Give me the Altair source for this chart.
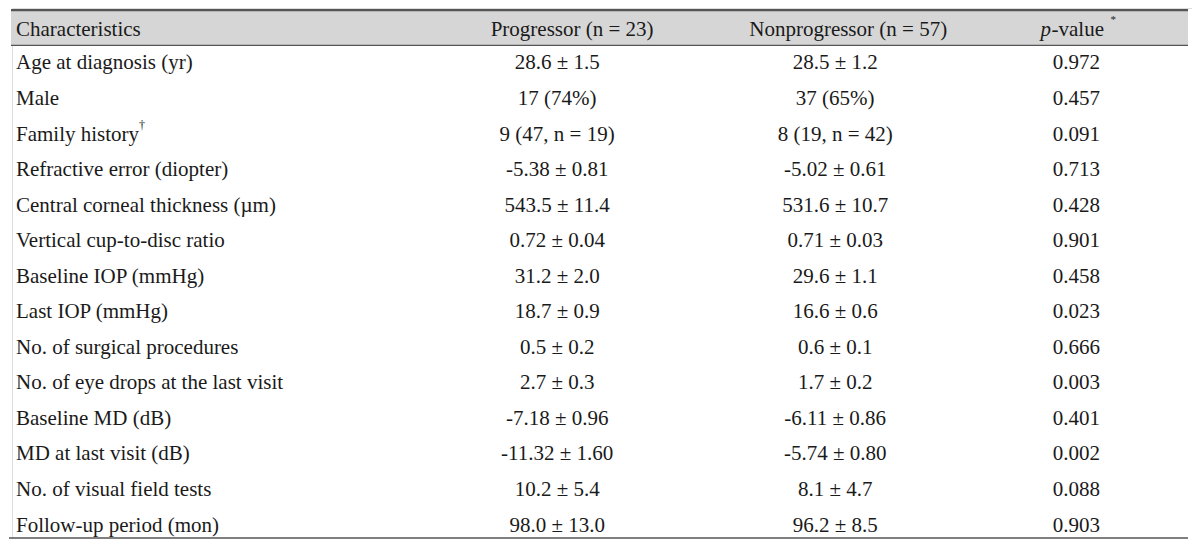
import altair as alt
import pandas as pd

characteristics = [
    "Age at diagnosis (yr)", "Male", "Family history", "Refractive error (diopter)",
    "Central corneal thickness (\u00b5m)", "Vertical cup-to-disc ratio", "Baseline IOP (mmHg)",
    "Last IOP (mmHg)", "No. of surgical procedures", "No. of eye drops at the last visit",
    "Baseline MD (dB)", "MD at last visit (dB)", "No. of visual field tests",
    "Follow-up period (mon)",
]
progressor = [
    "28.6 \u00b1 1.5", "17 (74%)", "9 (47, n = 19)", "-5.38 \u00b1 0.81", "543.5 \u00b1 11.4",
    "0.72 \u00b1 0.04", "31.2 \u00b1 2.0", "18.7 \u00b1 0.9", "0.5 \u00b1 0.2", "2.7 \u00b1 0.3",
    "-7.18 \u00b1 0.96", "-11.32 \u00b1 1.60", "10.2 \u00b1 5.4", "98.0 \u00b1 13.0",
]
nonprogressor = [
    "28.5 \u00b1 1.2", "37 (65%)", "8 (19, n = 42)", "-5.02 \u00b1 0.61", "531.6 \u00b1 10.7",
    "0.71 \u00b1 0.03", "29.6 \u00b1 1.1", "16.6 \u00b1 0.6", "0.6 \u00b1 0.1", "1.7 \u00b1 0.2",
    "-6.11 \u00b1 0.86", "-5.74 \u00b1 0.80", "8.1 \u00b1 4.7", "96.2 \u00b1 8.5",
]
p_values = [
    "0.972", "0.457", "0.091", "0.713", "0.428", "0.901", "0.458", "0.023", "0.666",
    "0.003", "0.401", "0.002", "0.088", "0.903",
]
headers = ["Characteristics", "Progressor (n = 23)", "Nonprogressor (n = 57)"]

FONT = "Liberation Serif"
FS = 21
COLOR = "#1a1a1a"
DY = 1.5
col_x = [12, 555, 834, 1076]
head_x = [12, 570, 847]
HEAD_ROW = 0.05

n = len(characteristics)
rows = []
for i in range(n):
    r = i + 1
    rows.append({"x": col_x[0], "row": r, "t": characteristics[i], "col": "c0"})
    rows.append({"x": col_x[1], "row": r, "t": progressor[i], "col": "c1"})
    rows.append({"x": col_x[2], "row": r, "t": nonprogressor[i], "col": "c2"})
    rows.append({"x": col_x[3], "row": r, "t": p_values[i], "col": "c3"})
df = pd.DataFrame(rows)

xs = alt.Scale(domain=[8, 1192])
ys = alt.Scale(domain=[-0.519, 14.42], reverse=True)
X = lambda f="x": alt.X(f"{f}:Q", scale=xs, axis=None)
Y = lambda f="row": alt.Y(f"{f}:Q", scale=ys, axis=None)

band = alt.Chart(pd.DataFrame({"x": [7], "x2": [1188], "y": [-0.46], "y2": [0.53]})).mark_rect(
    color="#d6d6d6").encode(x=X(), x2="x2:Q", y=Y("y"), y2="y2:Q")

lines_df = pd.DataFrame({"x": [7, 7, 5], "x2": [1188, 1188, 1188], "y": [-0.46, 0.53, 14.39],
                         "w": [2.2, 1.2, 1.6]})
lines = alt.Chart(lines_df).mark_rule(color="#555555").encode(
    x=X(), x2="x2:Q", y=Y("y"), strokeWidth=alt.StrokeWidth("w:Q", scale=None))

hdf = pd.DataFrame({"x": head_x, "row": [HEAD_ROW] * 3, "t": headers})
head_left = alt.Chart(hdf.iloc[[0]]).mark_text(font=FONT, fontSize=FS, color=COLOR, align="left", dy=DY).encode(
    x=X(), y=Y(), text="t:N")
head_center = alt.Chart(hdf.iloc[1:]).mark_text(font=FONT, fontSize=FS, color=COLOR, align="center", dy=DY).encode(
    x=X(), y=Y(), text="t:N")

pdf = pd.DataFrame({"x": [1040], "row": [HEAD_ROW], "p": ["p"], "v": ["-value"], "s": ["*"]})
p_it = alt.Chart(pdf).mark_text(font=FONT, fontSize=FS, color=COLOR, align="left", fontStyle="italic", dy=DY).encode(
    x=X(), y=Y(), text="p:N")
p_rest = alt.Chart(pdf).mark_text(font=FONT, fontSize=FS, color=COLOR, align="left", dx=11, dy=DY).encode(
    x=X(), y=Y(), text="v:N")
p_star = alt.Chart(pdf).mark_text(font=FONT, fontSize=11, color=COLOR, align="left", dx=70, dy=-8).encode(
    x=X(), y=Y(), text="s:N")

body_left = alt.Chart(df[df.col == "c0"]).mark_text(font=FONT, fontSize=FS, color=COLOR, align="left", dy=DY).encode(
    x=X(), y=Y(), text="t:N")
body_center = alt.Chart(df[df.col != "c0"]).mark_text(font=FONT, fontSize=FS, color=COLOR, align="center", dy=DY).encode(
    x=X(), y=Y(), text="t:N")

dag = alt.Chart(pd.DataFrame({"x": [12], "row": [3], "t": ["\u2020"]})).mark_text(
    font=FONT, fontSize=12, color=COLOR, align="left", dx=123, dy=-8).encode(x=X(), y=Y(), text="t:N")

chart = alt.layer(band, lines, head_left, head_center, p_it, p_rest, p_star, body_left, body_center, dag).properties(
    width=1184, height=531, padding=0,
    autosize=alt.AutoSizeParams(type="fit", contains="padding"),
).configure_view(stroke=None).configure(background="white")

chart.save("out.html", embed_options={"renderer": "svg", "actions": False})
